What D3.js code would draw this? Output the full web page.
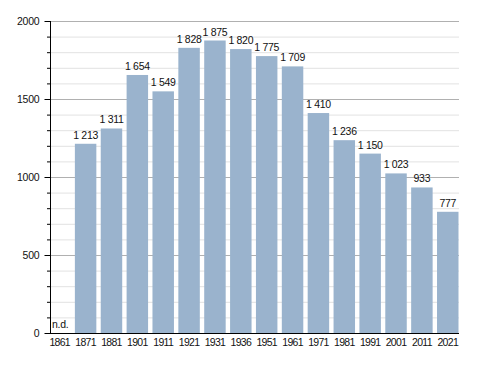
<!DOCTYPE html>
<html>
<head>
<meta charset="utf-8">
<script src="https://cdn.jsdelivr.net/npm/d3@7"></script>
<style>
  body { margin: 0; background: #fff; }
  text { font-family: "Liberation Sans", Arial, sans-serif; fill: #111; }
</style>
</head>
<body>
<svg id="svg" width="488" height="373"></svg>
<script>
let svg = d3.select("#svg");

/* Data */
let years = ["1861", "1871", "1881", "1901", "1911", "1921", "1931", "1936",
             "1951", "1961", "1971", "1981", "1991", "2001", "2011", "2021"];
let population = [null, 1213, 1311, 1654, 1549, 1828, 1875, 1820,
                  1775, 1709, 1410, 1236, 1150, 1023, 933, 777];
let majorTicks = [0, 500, 1000, 1500, 2000];

let plotLeft = 50, plotRight = 459, plotTop = 21, plotBottom = 333;

let x = d3.scaleBand()
  .domain(years)
  .range([49, 458.5])
  .paddingInner(0.17)
  .paddingOuter(0);

let y = d3.scaleLinear()
  .domain([0, 2000])
  .range([plotBottom, plotTop]);

let fmt = v => d3.format(",")(v).replace(",", " ");
let minorTicks = d3.range(100, 2001, 100).filter(d => d % 500 !== 0);
let barData = years.map((d, i) => ({ year: d, v: population[i] })).filter(d => d.v != null);

/* Minor grid */
svg.append("g")
  .selectAll("line")
  .data(minorTicks)
  .join("line")
  .attr("x1", plotLeft).attr("x2", plotRight)
  .attr("y1", d => y(d) + 0.5).attr("y2", d => y(d) + 0.5)
  .attr("stroke", "#e2e2e2");

/* Major grid */
svg.append("g")
  .selectAll("line")
  .data(majorTicks.filter(d => d > 0))
  .join("line")
  .attr("x1", plotLeft).attr("x2", plotRight)
  .attr("y1", d => y(d) + 0.5).attr("y2", d => y(d) + 0.5)
  .attr("stroke", "#b0b0b0");

/* Bars */
svg.append("g")
  .selectAll("rect")
  .data(barData)
  .join("rect")
  .attr("x", d => x(d.year))
  .attr("width", x.bandwidth())
  .attr("y", d => y(d.v))
  .attr("height", d => y(0) - y(d.v))
  .attr("fill", "#9ab3cd");

/* Value labels */
svg.append("g")
  .selectAll("text")
  .data(barData)
  .join("text")
  .attr("x", d => x(d.year) + x.bandwidth() / 2)
  .attr("y", d => y(d.v) - 5)
  .attr("text-anchor", "middle")
  .attr("font-size", 10.5)
  .attr("letter-spacing", "-0.3px")
  .text(d => fmt(d.v));

/* n.d. */
svg.append("text")
  .attr("x", x("1861") + 3)
  .attr("y", y(0) - 5)
  .attr("font-size", 10.5)
  .attr("letter-spacing", "-0.3px")
  .text("n.d.");

/* Y axis */
let yAxis = svg.append("g")
  .attr("transform", `translate(${plotLeft + 0.5},0)`)
  .call(d3.axisLeft(y).tickValues(majorTicks).tickSize(6).tickPadding(5).tickFormat(d => d));
yAxis.select(".domain").remove();
yAxis.selectAll("line").attr("stroke", "#000");
yAxis.selectAll("text").attr("font-size", 10.5).attr("letter-spacing", "-0.2px")
  .style("font-family", "'Liberation Sans', Arial, sans-serif").attr("fill", "#111");

svg.append("g")
  .selectAll("line")
  .data(minorTicks)
  .join("line")
  .attr("x1", plotLeft - 3).attr("x2", plotLeft)
  .attr("y1", d => y(d) + 0.5).attr("y2", d => y(d) + 0.5)
  .attr("stroke", "#000");

svg.append("line")
  .attr("x1", plotLeft + 0.5).attr("x2", plotLeft + 0.5)
  .attr("y1", plotTop).attr("y2", plotBottom + 1)
  .attr("stroke", "#000");

/* X axis */
svg.append("line")
  .attr("x1", plotLeft).attr("x2", plotRight)
  .attr("y1", plotBottom + 0.5).attr("y2", plotBottom + 0.5)
  .attr("stroke", "#000");

svg.append("g")
  .selectAll("text")
  .data(years)
  .join("text")
  .attr("x", d => x(d) + x.bandwidth() / 2)
  .attr("y", plotBottom + 13)
  .attr("text-anchor", "middle")
  .attr("font-size", 10.5)
  .attr("letter-spacing", "-0.7px")
  .text(d => d);
</script>
</body>
</html>
